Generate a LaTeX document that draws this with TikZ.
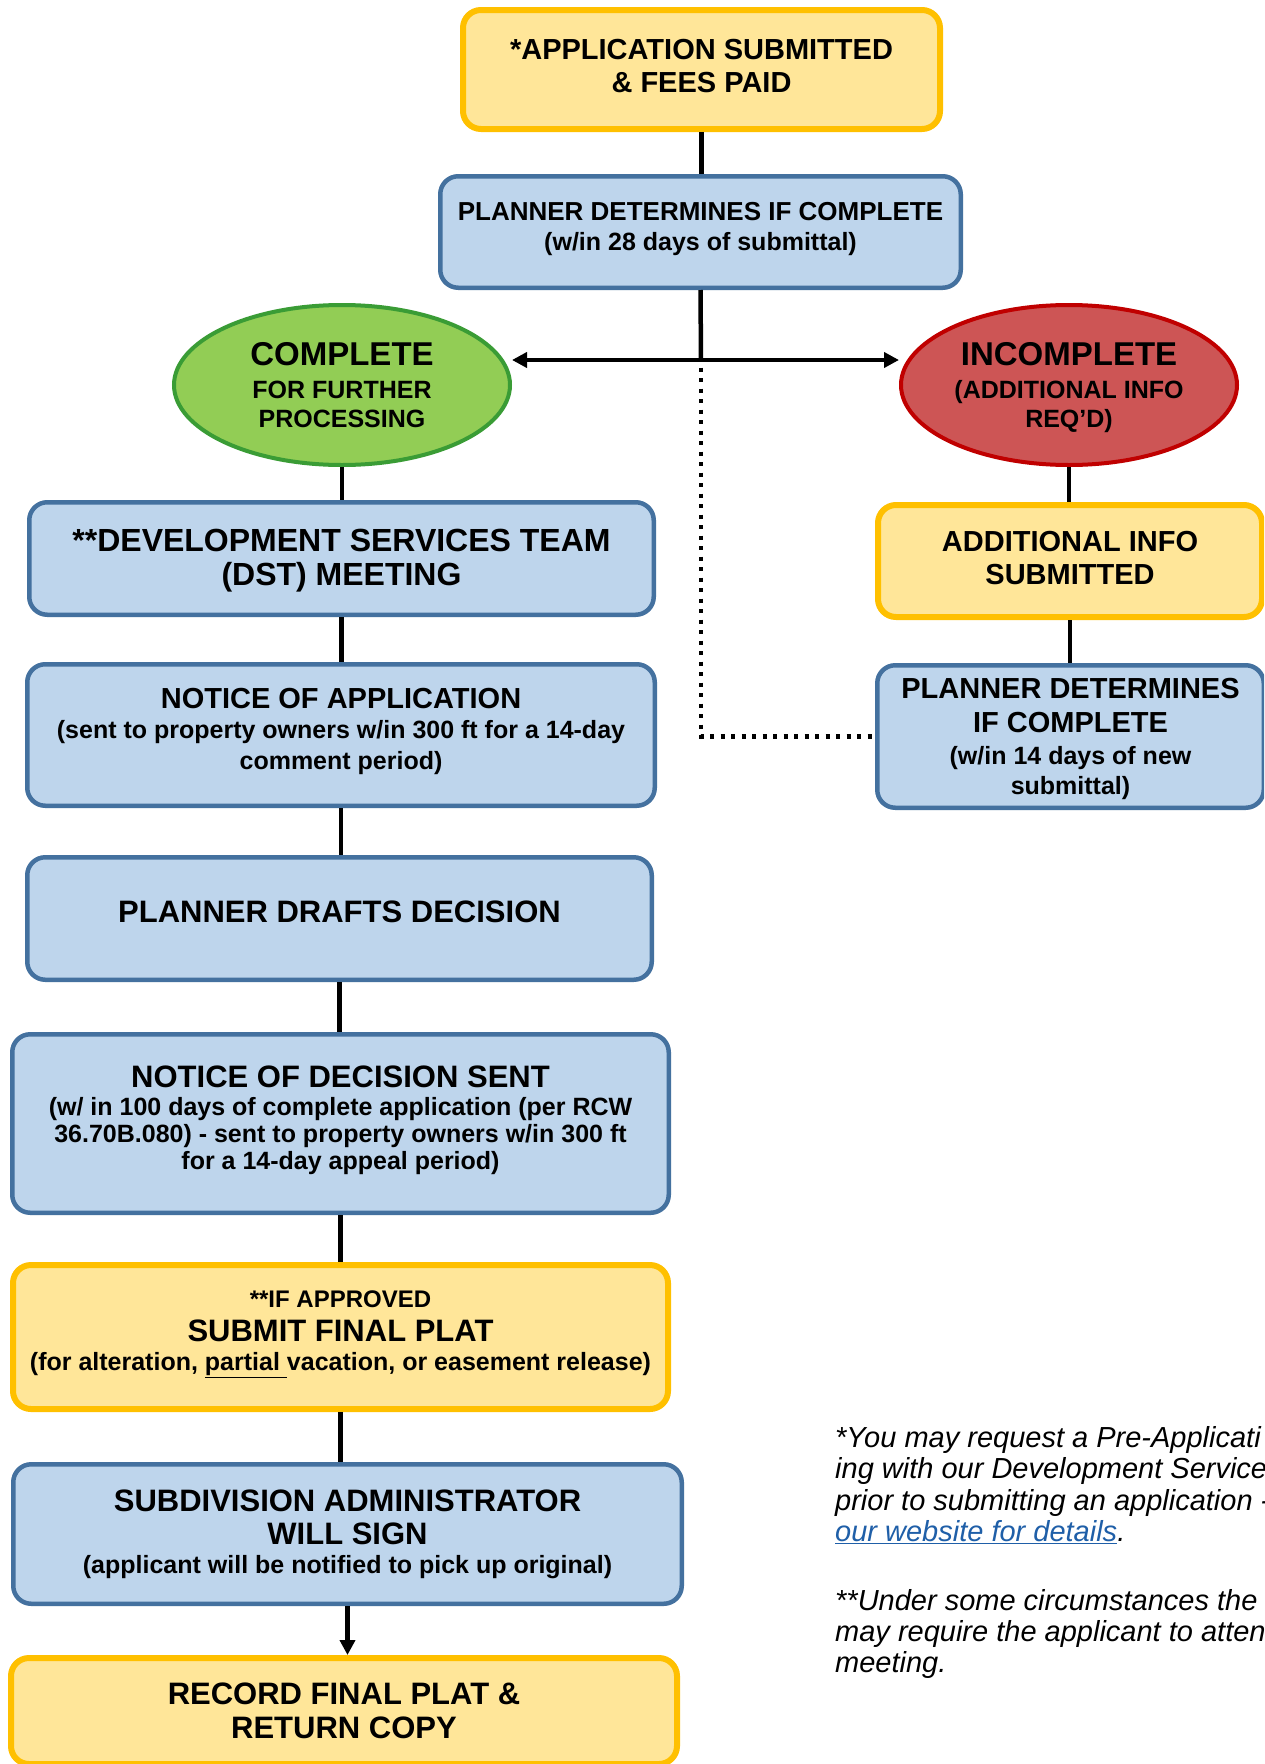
\documentclass[tikz,border=0pt]{standalone}
\usepackage{fontspec}
\setmainfont{Liberation Sans}
\usetikzlibrary{shapes.geometric,arrows.meta}
\definecolor{ylwfill}{HTML}{FFE699}
\definecolor{ylwline}{HTML}{FFC000}
\definecolor{blufill}{HTML}{BED5EC}
\definecolor{bluline}{HTML}{44719F}
\definecolor{grnfill}{HTML}{92CD55}
\definecolor{grnline}{HTML}{3A9C35}
\definecolor{redfill}{HTML}{CD5555}
\definecolor{redline}{HTML}{C00000}
\definecolor{linkblue}{HTML}{1F5FA8}
\newcommand{\myfs}[2]{\fontsize{#1pt}{#2pt}\selectfont}
\tikzset{
  ybox/.style={draw=ylwline, fill=ylwfill, line width=6pt, rounded corners=18pt, align=center, inner sep=0pt},
  bbox/.style={draw=bluline, fill=blufill, line width=4.5pt, rounded corners=18pt, align=center, inner sep=0pt},
  oval/.style={ellipse, line width=4pt, align=center, inner sep=0pt, minimum width=336pt, minimum height=160pt},
  conn/.style={draw=black, line width=4.5pt},
  dotline/.style={draw=black, line width=4.5pt, dash pattern=on 4pt off 6.5pt},
  note/.style={anchor=base west, inner sep=0pt, font=\myfs{29}{31}\itshape}
}
\begin{document}
\begin{tikzpicture}[x=1pt,y=-1pt,>={Triangle[length=15pt,width=15pt]}]
\useasboundingbox (0,0) rectangle (1264,1764);
\begin{scope}
\clip (0,0) rectangle (1264,1764);
\fill[white] (0,0) rectangle (1264,1764);

% nodes
\node[ybox, minimum width=477pt, minimum height=119pt, font=\myfs{29}{33}\bfseries, text depth=8pt] (app) at (701.5,69.5)
  {*APPLICATION SUBMITTED\\\& FEES PAID};
\node[bbox, minimum width=520.5pt, minimum height=111.5pt, font=\myfs{26}{30}\bfseries, text depth=11pt] (plan1) at (700.5,232)
  {PLANNER DETERMINES IF COMPLETE\\\myfs{25}{30}\bfseries(w/in 28 days of submittal)};
\node[oval, draw=grnline, fill=grnfill, font=\myfs{25}{29}\bfseries] (complete) at (342,385)
  {\myfs{33}{34}\bfseries COMPLETE\\[4pt]FOR FURTHER\\PROCESSING};
\node[oval, draw=redline, fill=redfill, font=\myfs{25}{29}\bfseries, text depth=-12pt] (incomplete) at (1069,385)
  {\myfs{33}{34}\bfseries INCOMPLETE\\[4pt](ADDITIONAL INFO\\REQ’D)};
\node[bbox, minimum width=624.5pt, minimum height=112.5pt, font=\myfs{32}{34}\bfseries, text depth=2.5pt] (dst) at (341.5,558.5)
  {**DEVELOPMENT SERVICES TEAM\\(DST) MEETING};
\node[bbox, minimum width=627.5pt, minimum height=141.5pt, font=\myfs{25}{31}\bfseries, text depth=13pt] (noa) at (341,735)
  {\myfs{29}{31}\bfseries NOTICE OF APPLICATION\\[-1pt](sent to property owners w/in 300 ft for a 14-day\\comment period)};
\node[bbox, minimum width=624.5pt, minimum height=122.5pt, font=\myfs{31}{34}\bfseries, text depth=14pt] (pdd) at (339.5,918.5)
  {PLANNER DRAFTS DECISION};
\node[bbox, minimum width=656.5pt, minimum height=178.5pt, font=\myfs{25}{27}\bfseries, text depth=12.5pt] (nod) at (340.5,1123.5)
  {\myfs{31}{33}\bfseries NOTICE OF DECISION SENT\\[1pt](w/ in 100 days of complete application (per RCW\\36.70B.080) - sent to property owners w/in 300 ft\\for a 14-day appeal period)};
\node[ybox, minimum width=655pt, minimum height=144pt, font=\myfs{25}{30}\bfseries, text depth=12.5pt] (ifa) at (340.5,1337)
  {\myfs{24}{30}\bfseries **IF APPROVED\\[3.5pt]\myfs{31}{33}\bfseries SUBMIT FINAL PLAT\\[-1pt](for alteration, \underline{partial\ }vacation, or easement release)};
\node[bbox, minimum width=668.5pt, minimum height=139.5pt, font=\myfs{31}{34}\bfseries] (sub) at (347.5,1534)
  {SUBDIVISION ADMINISTRATOR\\[-1pt]WILL SIGN\\[-5pt]\myfs{25}{29}\bfseries(applicant will be notified to pick up original)};
\node[ybox, minimum width=666pt, minimum height=106pt, font=\myfs{31}{34}\bfseries, text depth=-4pt] (rec) at (344,1711)
  {RECORD FINAL PLAT \&\\RETURN COPY};
\node[ybox, minimum width=384pt, minimum height=112pt, font=\myfs{29}{33}\bfseries, text depth=6pt] (addi) at (1070,561)
  {ADDITIONAL INFO\\SUBMITTED};
\node[bbox, minimum width=386.5pt, minimum height=142.5pt, font=\myfs{29}{34}\bfseries, text depth=-1.5pt] (plan2) at (1070.5,736.5)
  {PLANNER DETERMINES\\IF COMPLETE\\[-2pt]\myfs{25}{30}\bfseries(w/in 14 days of new\\[-4pt]\myfs{25}{30}\bfseries submittal)};

% connectors
\coordinate (split) at (701,360);
\draw[conn] (app.south) -- (app.south |- plan1.north);
\draw[conn] (plan1.south) -- (split);
\draw[conn, <->] (split -| complete.east) -- (split -| incomplete.west);
\draw[dotline] ([yshift=3pt]split) -- (split |- plan2.west) -- (plan2.west);
\draw[conn] (complete.south) -- (complete.south |- dst.north);
\draw[conn] (dst.south) -- (dst.south |- noa.north);
\draw[conn] (noa.south) -- (noa.south |- pdd.north);
\draw[conn] (pdd.south) -- (pdd.south |- nod.north);
\draw[conn] (nod.south) -- (nod.south |- ifa.north);
\draw[conn] (ifa.south) -- (ifa.south |- sub.north);
\draw[conn, ->] (sub.south) -- (sub.south |- rec.north);
\draw[conn] (incomplete.south) -- (incomplete.south |- addi.north);
\draw[conn] (addi.south) -- (addi.south |- plan2.north);

% footnotes
\node[note] (n1) at (835,1447) {*You may request a Pre-Applicati};
\node[note] (n2) at (835,1478) {ing with our Development Service};
\node[note] (n3) at (835,1510) {prior to submitting an application -};
\node[note] (n4) at (835,1541) {\textcolor{linkblue}{\underline{our website for details}}.};
\node[note] (n5) at (835,1610) {**Under some circumstances the};
\node[note] (n6) at (835,1641) {may require the applicant to atten};
\node[note] (n7) at (835,1672) {meeting.};
\end{scope}
\end{tikzpicture}
\end{document}
